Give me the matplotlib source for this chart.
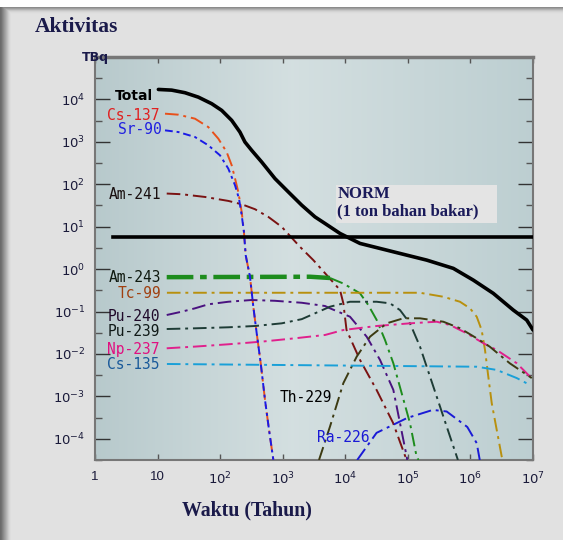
import numpy as np
import matplotlib
matplotlib.use("Agg")
import matplotlib.pyplot as plt
from matplotlib.ticker import FixedLocator, NullLocator, FixedFormatter
from matplotlib.patches import Rectangle

# ---------------- data (years, TBq) ----------------
total_t = [10.3, 16.8, 27.4, 44.8, 73.3, 106, 153, 207, 249, 319, 461, 753, 1230, 2014, 3281, 4742,
           8241, 17180, 58600, 200000, 533000, 1.11e6, 2.32e6, 4.85e6, 7.93e6, 1e7]
total_a = [17180, 16560, 14390, 11320, 7925, 5508, 3206, 1702, 991, 631, 335, 136, 65.9, 32.1, 17.0, 11.9,
           6.92, 4.03, 2.56, 1.63, 1.04, 0.551, 0.268, 0.108, 0.063, 0.0367]

norm_t = [1.95, 1e7]
norm_a = [5.8, 5.8]

cs137_t = [13.15, 21.5, 39.6, 64.7, 93.5, 127, 153, 173, 195, 221, 240, 256, 300, 339, 384, 445, 521, 604, 708]
cs137_a = [4613, 4365, 3516, 2228, 1189, 575, 280, 136, 65.9, 22.3, 7.55, 2.13, 0.659, 0.13, 0.0307,
           0.00604, 8.28e-4, 1.63e-4, 3.2e-5]

sr90_t = [13.15, 21.5, 39.6, 64.7, 99.5, 135, 173, 200, 221, 240, 256, 300, 339, 384, 445, 521, 604, 708]
sr90_a = [1866, 1702, 1300, 828, 481, 234, 94.6, 45.7, 18.7, 7.55, 2.13, 0.659, 0.13, 0.0307,
          0.00604, 8.28e-4, 1.63e-4, 3.2e-5]

am241_t = [14.0, 24.3, 57.3, 135, 221, 361, 589, 964, 1888, 3083, 5047, 8241, 9311, 10470, 17180,
           31620, 57940, 90160, 96830]
am241_a = [60.4, 58.2, 50.2, 40.5, 33.8, 25.8, 17.0, 9.91, 3.35, 1.63, 0.723, 0.321, 0.156, 0.0367,
           0.00723, 0.00142, 2.38e-4, 3.98e-5, 3.2e-5]

am243_t = [14.0, 2730, 5702, 9311, 17180, 23330, 31770, 43150, 58610, 79620, 108100, 138000, 148000]
am243_a = [0.646, 0.661, 0.617, 0.457, 0.269, 0.142, 0.0631, 0.0213, 0.00603, 0.00119, 2.34e-4, 3.8e-5, 3.16e-5]

tc99_t = [14.1, 156300, 369000, 680800, 984000, 1.26e6, 1.51e6, 1.71e6, 1.93e6, 2.19e6, 2.63e6, 3.16e6, 3.3e6]
tc99_a = [0.277, 0.277, 0.223, 0.17, 0.119, 0.0755, 0.0367, 0.0124, 0.00292, 6.92e-4, 1.63e-4, 3.84e-5, 3.16e-5]

pu240_t = [14.0, 24.3, 39.6, 64.7, 135, 319, 753, 2014, 4742, 5702, 11885, 21980, 35890, 58610, 95720, 97700]
pu240_a = [0.0828, 0.0991, 0.119, 0.148, 0.170, 0.187, 0.179, 0.161, 0.135, 0.119, 0.0755, 0.0255,
           0.00723, 0.00142, 3.84e-5, 3.16e-5]

pu239_t = [14.0, 39.6, 135, 361, 964, 2014, 3548, 5702, 11885, 31770, 51880, 74990, 108100, 156300,
           225900, 326600, 472100, 604000, 631000]
pu239_a = [0.0387, 0.0402, 0.0425, 0.0456, 0.0527, 0.0661, 0.0955, 0.13, 0.17, 0.17, 0.156, 0.108,
           0.0527, 0.0149, 0.00292, 5.75e-4, 1.13e-4, 3.84e-5, 3.16e-5]

np237_t = [14.0, 39.6, 135, 461, 1570, 4742, 9311, 31770, 108100, 289100, 472100, 871000, 1.61e6,
           2.63e6, 5.5e6, 8.95e6, 1e7]
np237_a = [0.0136, 0.0149, 0.0169, 0.0195, 0.0234, 0.028, 0.0367, 0.0456, 0.0527, 0.0575, 0.0481,
           0.0307, 0.0179, 0.0124, 0.00604, 0.00292, 0.0025]

th229_t = [3800, 5702, 9311, 15210, 24830, 45920, 84530, 156300, 369000, 680800, 1.26e6, 2.04e6, 4.27e6, 9.55e6]
th229_a = [3.16e-5, 1.95e-4, 0.00205, 0.00863, 0.0255, 0.0527, 0.0692, 0.0692, 0.0575, 0.0403, 0.0234,
           0.0148, 0.006, 0.0027]

cs135_t = [14.1, 1.26e6, 2.63e6, 5.5e6, 8.9e6]
cs135_a = [0.0058, 0.005, 0.0042, 0.0027, 0.00186]

ra226_t = [15500, 31600, 97700, 251000, 417000, 891000, 1.26e6, 1.41e6]
ra226_a = [3.16e-5, 1.38e-4, 3.1e-4, 4.8e-4, 4.4e-4, 1.9e-4, 7.9e-5, 3.16e-5]

x_ticks = [1, 10, 100, 1e3, 1e4, 1e5, 1e6, 1e7]
x_labels = ["1", "10", "$10^2$", "$10^3$", "$10^4$", "$10^5$", "$10^6$", "$10^7$"]
y_ticks = [1e-4, 1e-3, 1e-2, 1e-1, 1, 10, 100, 1e3, 1e4]
y_labels = ["$10^{-4}$", "$10^{-3}$", "$10^{-2}$", "$10^{-1}$", "$10^{0}$", "$10^{1}$", "$10^{2}$", "$10^{3}$", "$10^{4}$"]

# ---------------- figure ----------------
W, H = 563, 540
fig = plt.figure(figsize=(W / 100, H / 100), dpi=100)

# background frame (light gray panel with shadowed edges)
bg = np.full((H, W), 0.886)
bg[:7, :] = 1.0
for i, v in enumerate([0.55, 0.62, 0.7, 0.78, 0.83, 0.86, 0.875]):
    bg[7 + i, :] = v
for j, v in enumerate([0.42, 0.45, 0.5, 0.55, 0.6, 0.65, 0.7, 0.75, 0.8, 0.84, 0.87]):
    bg[7:, j] = np.minimum(bg[7:, j], v)
bga = fig.add_axes([0, 0, 1, 1], zorder=-5)
bga.imshow(np.dstack([bg, bg, bg]), aspect="auto", extent=[0, 1, 0, 1], interpolation="bilinear")
bga.set_axis_off()

ax = fig.add_axes([95 / W, 80 / H, 438 / W, 403 / H])
ax.set_xscale("log")
ax.set_yscale("log")

# plot-area gradient
gx = np.linspace(0, 1, 256)
left = np.array([0.72, 0.79, 0.80])
mid = np.array([0.83, 0.875, 0.88])
right = np.array([0.74, 0.81, 0.82])
cols = np.where(gx[:, None] < 0.45,
                left + (mid - left) * (gx[:, None] / 0.45),
                mid + (right - mid) * ((gx[:, None] - 0.45) / 0.55))
grad = np.repeat(cols[None, :, :], 2, axis=0)
ax.imshow(grad, aspect="auto", extent=[0, 1, 0, 1], transform=ax.transAxes, zorder=0)

dd = (7, 2.5, 1.5, 2.5)

def dline(t, a, c, lw=1.4, z=3, dashes=dd):
    ax.plot(t, a, color=c, lw=lw, dashes=dashes, zorder=z, solid_capstyle="butt")

ax.plot(norm_t, norm_a, color="black", lw=2.6, zorder=4)
ax.plot(total_t, total_a, color="black", lw=2.6, zorder=5, solid_capstyle="round")

dline(cs137_t, cs137_a, "#e8501a")
dline(sr90_t, sr90_a, "#1a1ae6", 1.4, 3.5, (4, 2, 1.5, 2))
dline(am241_t, am241_a, "#7a1212")
ax.plot(am243_t[:3], am243_a[:3], color="#1d8c1d", lw=3.2, dashes=(6, 1.5, 1.5, 1.5), zorder=3)
dline(am243_t[2:], am243_a[2:], "#1d8c1d")
dline(tc99_t, tc99_a, "#b8900e")
dline(pu240_t, pu240_a, "#4a1280")
dline(pu239_t, pu239_a, "#1e3c36")
dline(np237_t, np237_a, "#e0208c")
dline(th229_t, th229_a, "#3c3a12")
dline(cs135_t, cs135_a, "#1aa0d8")
dline(ra226_t, ra226_a, "#1a1ad6")

ax.set_xlim(1, 1e7)
ax.set_ylim(10 ** -4.5, 1e5)

ax.xaxis.set_major_locator(FixedLocator(x_ticks))
ax.xaxis.set_major_formatter(FixedFormatter(x_labels))
ax.xaxis.set_minor_locator(NullLocator())
ax.yaxis.set_major_locator(FixedLocator(y_ticks))
ax.yaxis.set_major_formatter(FixedFormatter(y_labels))
ax.yaxis.set_minor_locator(FixedLocator([10 ** (k + 0.5) for k in range(-5, 5)]))
ax.yaxis.set_minor_formatter(FixedFormatter([]))

tick_col = "#1a1a3a"
ax.tick_params(axis="x", which="major", direction="in", length=4.5, width=1, color="#555555",
               top=True, bottom=True, pad=8, labelsize=9.5, labelcolor=tick_col)
ax.tick_params(axis="y", which="major", direction="in", length=11, width=1, color="#333333",
               left=True, right=True, pad=7, labelsize=9.5, labelcolor=tick_col)
ax.tick_params(axis="y", which="minor", direction="in", length=5, width=1, color="#555555",
               left=True, right=True)
for lab in ax.get_xticklabels() + ax.get_yticklabels():
    lab.set_family(["Liberation Sans", "DejaVu Sans"])

for s in ax.spines.values():
    s.set_color("#777777")
    s.set_linewidth(1.5)
ax.spines["top"].set_linewidth(2.5)

# curve labels
lab_font = dict(family=["DejaVu Sans Mono"], fontsize=10.5, transform=ax.transAxes, va="center", zorder=6)
ax.text(0.132, 0.903, "Total", color="black", ha="right", fontweight="bold",
        family=["DejaVu Sans"], fontsize=10, transform=ax.transAxes, va="center", zorder=6)
ax.text(0.148, 0.854, "Cs-137", color="#e02020", ha="right", **lab_font)
ax.text(0.153, 0.819, "Sr-90", color="#2020e0", ha="right", **lab_font)
ax.text(0.151, 0.660, "Am-241", color="#1a1010", ha="right", **lab_font)
ax.text(0.151, 0.452, "Am-243", color="#101a10", ha="right", **lab_font)
ax.text(0.151, 0.414, "Tc-99", color="#a04010", ha="right", **lab_font)
ax.text(0.148, 0.357, "Pu-240", color="#200a2a", ha="right", **lab_font)
ax.text(0.148, 0.320, "Pu-239", color="#101a18", ha="right", **lab_font)
ax.text(0.148, 0.275, "Np-237", color="#e01080", ha="right", **lab_font)
ax.text(0.148, 0.238, "Cs-135", color="#1a5a9a", ha="right", **lab_font)
ax.text(0.422, 0.156, "Th-229", color="black", ha="left", **lab_font)
ax.text(0.507, 0.057, "Ra-226", color="#1a1ad6", ha="left", **lab_font)

# NORM annotation
ax.add_patch(Rectangle((0.550, 0.588), 0.368, 0.094, transform=ax.transAxes,
                       facecolor="#e4e4e4", edgecolor="none", zorder=5))
ax.text(0.553, 0.680, "NORM\n(1 ton bahan bakar)", transform=ax.transAxes, ha="left", va="top",
        family=["Liberation Serif", "DejaVu Serif"], fontweight="bold", fontsize=12,
        color="#1a1a5a", linespacing=1.12, zorder=6)

# titles
fig.text(35 / W, 1 - 27 / H, "Aktivitas", family=["Liberation Serif", "DejaVu Serif"],
         fontweight="bold", fontsize=15.5, color="#1a1a4a", ha="left", va="center")
fig.text(82 / W, 1 - 58 / H, "TBq", family=["DejaVu Sans"], fontweight="bold",
         fontsize=9, color="#1a1a4a", ha="left", va="center")
fig.text(247 / W, 1 - 510 / H, "Waktu (Tahun)", family=["Liberation Serif", "DejaVu Serif"],
         fontweight="bold", fontsize=14.3, color="#1a1a4a", ha="center", va="center")

fig.savefig("out.png", dpi=100)
